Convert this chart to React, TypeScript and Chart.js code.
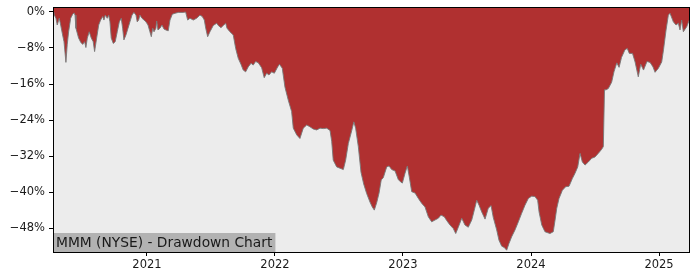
import React, { useEffect, useRef } from "react";
import { Chart, registerables } from "chart.js";

Chart.register(...registerables);

const TITLE = "MMM (NYSE) - Drawdown Chart";
const X_TICKS = [2021, 2022, 2023, 2024, 2025];
const Y_TICKS = [0, -8, -16, -24, -32, -40, -48];

// decimal years
const dates = [
  2020.266, 2020.273, 2020.289, 2020.299, 2020.315, 2020.326, 2020.341, 2020.352, 2020.367, 2020.377,
  2020.388, 2020.404, 2020.42, 2020.43, 2020.438, 2020.445, 2020.466, 2020.482, 2020.498, 2020.513,
  2020.523, 2020.534, 2020.549, 2020.565, 2020.58, 2020.591, 2020.607, 2020.623, 2020.638, 2020.654,
  2020.664, 2020.674, 2020.69, 2020.701, 2020.711, 2020.721, 2020.737, 2020.752, 2020.768, 2020.784,
  2020.799, 2020.81, 2020.82, 2020.836, 2020.852, 2020.867, 2020.883, 2020.898, 2020.914, 2020.924,
  2020.935, 2020.945, 2020.961, 2020.977, 2020.992, 2021.008, 2021.023, 2021.034, 2021.045, 2021.055,
  2021.07, 2021.076, 2021.086, 2021.102, 2021.117, 2021.133, 2021.148, 2021.166, 2021.18, 2021.198,
  2021.219, 2021.245, 2021.284, 2021.302, 2021.318, 2021.336, 2021.362, 2021.388, 2021.414, 2021.432,
  2021.448, 2021.459, 2021.474, 2021.492, 2021.518, 2021.545, 2021.557, 2021.578, 2021.596, 2021.615,
  2021.625, 2021.648, 2021.674, 2021.693, 2021.713, 2021.734, 2021.752, 2021.771, 2021.791, 2021.813,
  2021.83, 2021.849, 2021.87, 2021.896, 2021.916, 2021.935, 2021.953, 2021.974, 2021.995, 2022.021,
  2022.035, 2022.057, 2022.078, 2022.104, 2022.13, 2022.143, 2022.17, 2022.195, 2022.221, 2022.248,
  2022.273, 2022.299, 2022.326, 2022.352, 2022.377, 2022.404, 2022.43, 2022.443, 2022.455, 2022.482,
  2022.508, 2022.534, 2022.552, 2022.573, 2022.599, 2022.616, 2022.63, 2022.651, 2022.672, 2022.693,
  2022.716, 2022.742, 2022.76, 2022.776, 2022.795, 2022.813, 2022.83, 2022.846, 2022.873, 2022.891,
  2022.912, 2022.938, 2022.963, 2022.98, 2022.995, 2023.016, 2023.034, 2023.049, 2023.068, 2023.094,
  2023.12, 2023.146, 2023.172, 2023.198, 2023.224, 2023.25, 2023.276, 2023.297, 2023.323, 2023.341,
  2023.367, 2023.393, 2023.412, 2023.432, 2023.459, 2023.484, 2023.51, 2023.537, 2023.557, 2023.576,
  2023.594, 2023.615, 2023.641, 2023.666, 2023.688, 2023.705, 2023.732, 2023.75, 2023.771, 2023.791,
  2023.81, 2023.828, 2023.849, 2023.875, 2023.901, 2023.927, 2023.953, 2023.979, 2024.005, 2024.031,
  2024.052, 2024.063, 2024.084, 2024.109, 2024.148, 2024.174, 2024.188, 2024.201, 2024.219, 2024.245,
  2024.271, 2024.297, 2024.323, 2024.344, 2024.365, 2024.383, 2024.401, 2024.422, 2024.448, 2024.474,
  2024.5, 2024.526, 2024.552, 2024.565, 2024.574, 2024.586, 2024.604, 2024.63, 2024.648, 2024.67,
  2024.688, 2024.707, 2024.734, 2024.752, 2024.768, 2024.793, 2024.813, 2024.838, 2024.857, 2024.879,
  2024.906, 2024.93, 2024.953, 2024.969, 2024.995, 2025.021, 2025.035, 2025.055, 2025.073, 2025.086,
  2025.112, 2025.133, 2025.151, 2025.164, 2025.177, 2025.19, 2025.216, 2025.237, 2025.242,
];

// drawdown in percent
const drawdown = [
  -0.1, -0.5, -1.4, -2.9, -1.4, -2.9, -5.1, -6.6, -11.2, -7.3,
  -4.4, -1.4, -0.5, -0.2, -0.7, -3.6, -5.8, -6.7, -7.2, -6.6,
  -7.9, -5.8, -4.4, -5.8, -6.6, -8.8, -5.8, -2.9, -1.8, -1.0,
  -1.8, -0.7, -1.4, -0.7, -2.2, -5.8, -7.0, -6.6, -4.4, -2.2,
  -1.4, -3.6, -6.2, -5.1, -3.6, -2.2, -0.7, -0.1, -0.7, -2.2,
  -1.8, -0.7, -1.4, -1.8, -2.2, -2.9, -4.4, -5.5, -3.6, -4.4,
  -3.6, -2.0, -4.0, -3.6, -2.9, -3.8, -4.0, -4.2, -1.8, -0.5,
  -0.3, -0.1, -0.1, 0, -1.8, -1.4, -1.8, -1.4, -0.7, -1.0,
  -1.8, -3.6, -5.5, -4.4, -3.0, -2.5, -3.0, -3.5, -3.0, -2.5,
  -3.6, -4.4, -5.1, -8.1, -10.3, -11.6, -12.9, -13.3, -12.2, -11.4,
  -11.8, -11.0, -11.3, -12.4, -14.6, -13.6, -14.0, -13.3, -13.6, -12.2,
  -11.6, -12.5, -16.7, -19.6, -22.1, -25.8, -27.3, -28.1, -25.8, -25.1,
  -25.5, -26.0, -26.2, -25.8, -25.9, -25.8, -26.3, -28.7, -32.9, -34.4,
  -34.7, -35.0, -32.9, -29.2, -26.4, -24.4, -25.8, -29.9, -35.6, -38.2,
  -40.3, -42.2, -43.3, -44.0, -42.3, -40.2, -37.3, -36.8, -34.4, -34.2,
  -35.0, -35.3, -37.2, -37.7, -38.0, -35.8, -34.2, -36.6, -39.9, -40.2,
  -41.4, -42.5, -43.3, -45.5, -46.6, -46.2, -45.8, -45.1, -45.5, -46.3,
  -47.3, -48.1, -49.2, -47.8, -45.8, -47.3, -47.8, -46.2, -44.0, -41.8,
  -42.9, -44.4, -46.0, -43.6, -43.0, -45.6, -48.4, -50.7, -52.0, -52.3,
  -52.9, -51.4, -49.9, -48.4, -46.6, -44.7, -42.9, -41.4, -40.9, -41.0,
  -41.8, -44.4, -47.3, -48.8, -49.2, -48.8, -46.2, -43.6, -41.4, -39.6,
  -38.8, -38.7, -37.0, -35.8, -34.4, -31.4, -33.3, -34.0, -33.3, -32.5,
  -32.2, -31.4, -30.5, -29.9, -17.3, -17.3, -17.0, -15.6, -13.3, -11.3,
  -12.3, -10.1, -8.4, -8.1, -9.2, -9.2, -11.1, -14.4, -11.6, -12.9,
  -11.0, -11.2, -12.2, -13.4, -12.5, -11.1, -8.4, -4.0, -0.7, -0.3,
  -2.2, -2.9, -2.5, -4.0, -1.8, -4.4, -3.3, -1.8, -3.6,
];

const X_MIN = 2020.266;
const X_MAX = 2025.242;
const Y_MIN = -53.3;
const Y_MAX = 1.1;

const FONT = "'DejaVu Sans', sans-serif";

const framePlugin = {
  id: "frame",
  beforeDraw(chart: any) {
    const { ctx, chartArea } = chart;
    ctx.save();
    ctx.fillStyle = "#ececec";
    ctx.fillRect(chartArea.left, chartArea.top, chartArea.right - chartArea.left, chartArea.bottom - chartArea.top);
    ctx.restore();
  },
  afterDraw(chart: any) {
    const { ctx, chartArea } = chart;
    ctx.save();
    // title label box
    ctx.font = `13.8px ${FONT}`;
    const w = ctx.measureText(TITLE).width;
    const h = 19;
    ctx.fillStyle = "rgba(178,178,178,1)";
    ctx.fillRect(chartArea.left, chartArea.bottom - h, w + 6, h);
    ctx.fillStyle = "#1a1a1a";
    ctx.textBaseline = "middle";
    ctx.textAlign = "left";
    ctx.fillText(TITLE, chartArea.left + 3, chartArea.bottom - h / 2 + 0.5);
    // frame
    ctx.strokeStyle = "#000";
    ctx.lineWidth = 1;
    const l = Math.round(chartArea.left) + 0.5;
    const t = Math.round(chartArea.top) + 0.5;
    const r = Math.round(chartArea.right) - 0.5;
    const b = Math.round(chartArea.bottom) + 0.5;
    ctx.strokeRect(l, t, r - l, b - t);
    ctx.restore();
  },
};

export default function App() {
  const ref = useRef<HTMLCanvasElement | null>(null);

  useEffect(() => {
    const canvas = ref.current;
    if (!canvas) return;
    const points = dates.map((d, i) => ({ x: d, y: drawdown[i] }));
    const chart = new Chart(canvas, {
      type: "line",
      data: {
        datasets: [
          {
            data: points,
            borderColor: "rgba(120,120,120,0.9)",
            borderWidth: 1,
            backgroundColor: "#b03030",
            fill: "end",
            pointRadius: 0,
            tension: 0,
          },
        ],
      },
      options: {
        animation: false,
        responsive: false,
        maintainAspectRatio: false,
        layout: { padding: { left: 0, right: 10, top: 7, bottom: 0 } },
        plugins: {
          legend: { display: false },
          tooltip: { enabled: false },
          title: { display: false },
        },
        scales: {
          x: {
            type: "linear",
            min: X_MIN,
            max: X_MAX,
            afterBuildTicks: (scale: any) => {
              scale.ticks = X_TICKS.map((v) => ({ value: v }));
            },
            afterFit: (scale: any) => {
              scale.height = 28;
              scale.paddingLeft = 0;
              scale.paddingRight = 0;
            },
            grid: {
              display: true,
              drawOnChartArea: false,
              drawTicks: true,
              tickLength: 4,
              tickColor: "#000",
            },
            border: { display: false },
            ticks: {
              autoSkip: false,
              maxRotation: 0,
              padding: 2,
              color: "#1a1a1a",
              font: { family: FONT, size: 11.5 },
              callback: (v: any) => String(v),
            },
          },
          y: {
            type: "linear",
            min: Y_MIN,
            max: Y_MAX,
            afterBuildTicks: (scale: any) => {
              scale.ticks = Y_TICKS.map((v) => ({ value: v }));
            },
            afterFit: (scale: any) => {
              scale.width = 53;
              scale.paddingTop = 0;
              scale.paddingBottom = 0;
            },
            grid: {
              display: true,
              drawOnChartArea: false,
              drawTicks: true,
              tickLength: 4,
              tickColor: "#000",
            },
            border: { display: false },
            ticks: {
              autoSkip: false,
              padding: 4,
              color: "#1a1a1a",
              font: { family: FONT, size: 11.5 },
              callback: (v: any) => (v === 0 ? "0%" : "\u2212" + Math.abs(v) + "%"),
            },
          },
        },
      },
      plugins: [framePlugin],
    });
    return () => chart.destroy();
  }, []);

  return (
    <div style={{ position: "fixed", left: 0, top: 0, width: 700, height: 280, background: "#fff" }}>
      <canvas ref={ref} width={700} height={280} style={{ width: 700, height: 280, display: "block" }} />
    </div>
  );
}
